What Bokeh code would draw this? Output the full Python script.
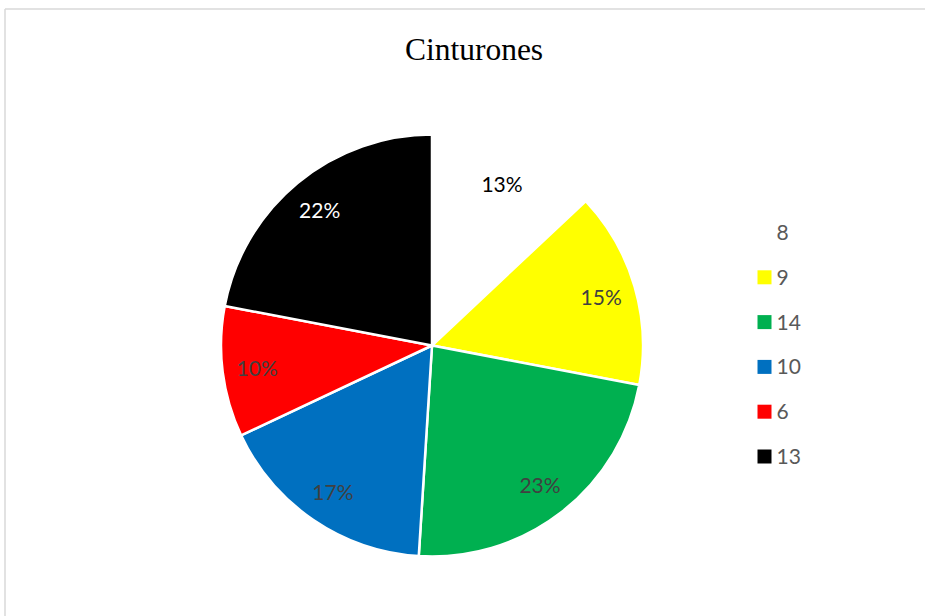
import math
from bokeh.plotting import figure
from bokeh.models import Range1d, ColumnDataSource
from bokeh.core.properties import value
from bokeh.embed import file_html
from bokeh.resources import INLINE

# ---- data ----
title = "Cinturones"
categories = ["8", "9", "14", "10", "6", "13"]
percents = [13, 15, 23, 17, 10, 22]
colors = ["#FFFFFF", "#FFFF00", "#00B050", "#0070C0", "#FF0000", "#000000"]
label_colors = ["#000000", "#404040", "#404040", "#404040", "#404040", "#FFFFFF"]

# ---- layout ----
W, H = 925, 616
CX, CY, R = 431.5, H - 345, 211
LABEL_R = 0.835

p = figure(width=W, height=H, output_backend="svg", toolbar_location=None,
           x_range=Range1d(0, W), y_range=Range1d(0, H), min_border=0)
p.axis.visible = False
p.grid.visible = False
p.outline_line_color = None
p.background_fill_color = "white"

# chart area border
p.multi_line(xs=[[4.5, 4.5], [4.5, W + 5]], ys=[[-10, H - 8.5], [H - 8.5, H - 8.5]],
             line_color="#D9D9D9", line_width=1.5)

total = sum(percents)
starts, ends, lx, ly, texts = [], [], [], [], []
acc = 0
for i, c in enumerate(percents):
    a0 = math.pi / 2 - 2 * math.pi * acc / total
    acc += c
    a1 = math.pi / 2 - 2 * math.pi * acc / total
    starts.append(a0)
    ends.append(a1)
    mid = (a0 + a1) / 2
    rr = R * LABEL_R
    lx.append(CX + rr * math.cos(mid))
    ly.append(CY + rr * math.sin(mid))
    texts.append(f"{round(100 * c / total)}%")

src = ColumnDataSource(dict(start=starts, end=ends, color=colors))
p.wedge(x=CX, y=CY, radius=R, start_angle="start", end_angle="end",
        direction="clock", fill_color="color", line_color="white",
        line_width=2.5, source=src)

p.text(x=lx, y=ly, text=texts, text_color=label_colors,
       text_font=value("Lato"), text_font_size="21px",
       text_align="center", text_baseline="middle")

# title
p.text(x=[473.5], y=[H - 49], text=[title], text_color="#000000",
       text_font=value("Liberation Serif"), text_font_size="31.5px",
       text_align="center", text_baseline="middle")

# legend
leg_y0 = H - 232
leg_step = 44.8
leg_ys = [leg_y0 - i * leg_step for i in range(len(categories))]
p.rect(x=[764] * len(categories), y=leg_ys, width=14, height=14,
       width_units="screen", height_units="screen",
       fill_color=colors, line_color=None)
p.text(x=[776] * len(categories), y=leg_ys, text=categories,
       text_color="#595959", text_font=value("Lato"), text_font_size="21px",
       text_align="left", text_baseline="middle")

open("out.html", "w").write(file_html(p, INLINE))
